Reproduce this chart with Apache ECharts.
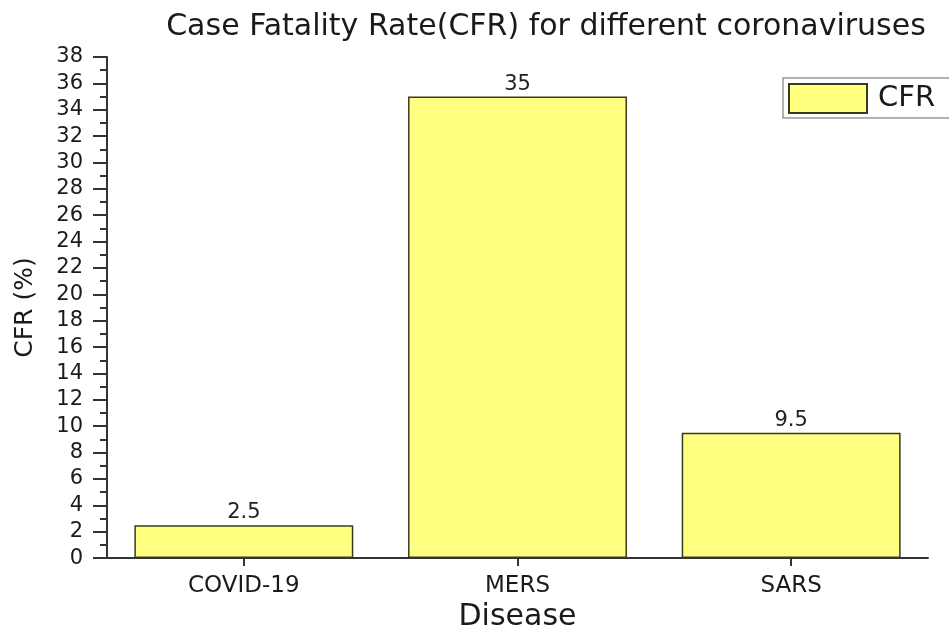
<!DOCTYPE html>
<html>
<head>
<meta charset="utf-8">
<script src="https://cdn.jsdelivr.net/npm/echarts@6/dist/echarts.min.js"></script>
<style>
  html, body { margin: 0; padding: 0; background: #fff; }
  #chart { width: 949px; height: 637px; }
</style>
</head>
<body>
<div id="chart"></div>
<script>
var categories = ["COVID-19", "MERS", "SARS"];
var cfrValues = [2.5, 35, 9.5];
var seriesName = "CFR";

var chartDom = document.getElementById("chart");
var myChart = echarts.init(chartDom);
var option;
option = {
  backgroundColor: "#fff",
  textStyle: { fontFamily: "DejaVu Sans, sans-serif" },
  title: {
    text: "Case Fatality Rate(CFR) for different coronaviruses",
    left: 541,
    textAlign: "center",
    top: 7,
    textStyle: { color: "#1a1a1a", fontSize: 30, fontWeight: "normal" },
  },
  legend: {
    data: [{ name: seriesName, icon: "rect" }],
    left: 783,
    top: 78,
    padding: [5, 40, 4, 5],
    itemWidth: 78,
    itemHeight: 29,
    borderColor: "#999",
    borderWidth: 1.5,
    textStyle: { color: "#1a1a1a", fontSize: 29, padding: [0, 0, 0, 6] },
  },
  grid: {
    left: 107,
    right: 21,
    top: 57,
    bottom: 76,
  },
  xAxis: {
    type: "category",
    data: categories,
    name: "Disease",
    nameLocation: "middle",
    nameGap: 42,
    nameTextStyle: { color: "#1a1a1a", fontSize: 30 },
    axisLine: { lineStyle: { color: "#333", width: 2 } },
    axisTick: { show: true, alignWithLabel: true, length: 8, lineStyle: { color: "#333", width: 2 } },
    axisLabel: { color: "#1a1a1a", fontSize: 23, margin: 16 },
  },
  yAxis: {
    type: "value",
    min: 0,
    max: 38,
    interval: 2,
    name: "CFR (%)",
    nameLocation: "middle",
    nameGap: 69,
    nameTextStyle: { color: "#1a1a1a", fontSize: 25 },
    axisLine: { show: true, lineStyle: { color: "#333", width: 2 } },
    axisTick: { show: true, length: 14, lineStyle: { color: "#333", width: 2 } },
    minorTick: { show: true, splitNumber: 2, length: 7, lineStyle: { color: "#333", width: 2 } },
    splitLine: { show: false },
    axisLabel: { color: "#1a1a1a", fontSize: 21, margin: 24 },
  },
  series: [
    {
      name: seriesName,
      type: "bar",
      data: cfrValues,
      barWidth: "80%",
      animation: false,
      itemStyle: {
        color: "#ffff80",
        borderColor: "#3a3a20",
        borderWidth: 1.5,
      },
      label: {
        show: true,
        position: "top",
        distance: 2,
        color: "#222",
        fontSize: 21,
      },
    },
  ],
};
option && myChart.setOption(option);
</script>
</body>
</html>
